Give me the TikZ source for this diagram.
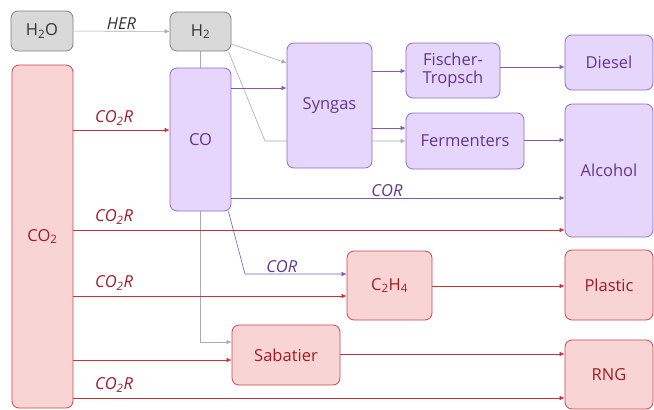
\documentclass[tikz,border=0pt]{standalone}
\usepackage{fontspec}
\setmainfont{Open Sans}
\usepackage{tikz}
\usetikzlibrary{arrows.meta}
\usetikzlibrary{backgrounds}
\usetikzlibrary{calc}

\definecolor{grayfill}{HTML}{D9D9D9}
\definecolor{grayline}{HTML}{7F7F7F}
\definecolor{graytext}{HTML}{333333}
\definecolor{grayflow}{HTML}{ABABAB}
\definecolor{purplefill}{HTML}{E6D6FB}
\definecolor{purpleline}{HTML}{8F6CC4}
\definecolor{purpletext}{HTML}{603592}
\definecolor{purpleflow}{HTML}{7E5AB8}
\definecolor{redfill}{HTML}{F9D4D4}
\definecolor{redline}{HTML}{C9484B}
\definecolor{redtext}{HTML}{A01A27}
\definecolor{redflow}{HTML}{C8313A}

\newcommand{\outx}{609}
\newcommand{\outw}{88}

\tikzstyle{unit}=[
  draw,
  rounded corners=7pt,
  line width=0.8pt,
  inner sep=0pt,
  align=center,
  font=\fontsize{16.5}{18}\selectfont
]
\tikzstyle{water}=[unit, fill=grayfill, draw=grayline, text=graytext]
\tikzstyle{carbon}=[unit, fill=purplefill, draw=purpleline, text=purpletext]
\tikzstyle{product}=[unit, fill=redfill, draw=redline, text=redtext]
\tikzstyle{flow}=[
  -{Latex[length=5pt,width=4.5pt]},
  line width=0.6pt
]
\tikzstyle{rxn}=[font=\itshape\fontsize{16.5}{18}\selectfont, inner sep=1pt]

\begin{document}
\begin{tikzpicture}[x=1pt, y=-1pt]
  \useasboundingbox (0,0) rectangle (654,410);

  % feeds
  \node[water,   minimum width=62, minimum height=40 ] (water)  at (42,    31)  {H\textsubscript{2}O};
  \node[water,   minimum width=61, minimum height=39 ] (htwo)   at (200.5, 31.5){H\textsubscript{2}};
  \node[product, minimum width=61, minimum height=343] (cotwo)  at (42.5,  236.5){CO\textsubscript{2}};

  % intermediates
  \node[carbon,  minimum width=61, minimum height=143] (co)     at (200.5, 139.5){CO};
  \node[carbon,  minimum width=85, minimum height=125] (syngas) at (329.5, 105.5){Syngas};
  \node[carbon,  minimum width=94, minimum height=55 ] (ft)     at (453,   70.5) {Fischer-\\Tropsch};
  \node[carbon,  minimum width=118,minimum height=56 ] (ferm)   at (465,   141)  {Fermenters};
  \node[product, minimum width=85, minimum height=69 ] (ethyl)  at (389.5, 285.5){C\textsubscript{2}H\textsubscript{4}};
  \node[product, minimum width=108,minimum height=60 ] (sabat)  at (286,   355)  {Sabatier};

  % products
  \node[carbon,  minimum width=\outw, minimum height=55 ] (diesel)  at (\outx, 62.5) {Diesel};
  \node[carbon,  minimum width=\outw, minimum height=133] (alcohol) at (\outx, 170.5){Alcohol};
  \node[product, minimum width=\outw, minimum height=70 ] (plastic) at (\outx, 285)  {Plastic};
  \node[product, minimum width=\outw, minimum height=69 ] (rng)     at (\outx, 374.5){RNG};

  % hydrogen routes, behind the boxes
  \coordinate (fermbend) at (265,141);
  \begin{scope}[on background layer]
    \draw[flow, grayflow] ($(htwo.south east)+(-3,0)$) -- (fermbend) -- (ferm.west |- fermbend);
    \draw[flow, grayflow] (htwo.south) |- (sabat.west |- 0,342);
    \draw[flow, purpleflow] ($(co.south east)+(-3,0)$) -- (245,274) -- (ethyl.west |- 0,274)
      node[midway, above, rxn, text=purpletext, xshift=-14pt] {COR};
  \end{scope}

  \draw[flow, grayflow] (water) -- (htwo) node[midway, above, rxn, text=graytext] {HER};
  \draw[flow, grayflow] (htwo.east |- 0,44) -- (syngas.west |- 0,63);

  % carbon monoxide routes
  \draw[flow, purpleflow] (co.east |- 0,88)      -- (syngas.west |- 0,88);
  \draw[flow, purpleflow] (syngas.east |- 0,71)  -- (ft.west |- 0,71);
  \draw[flow, purpleflow] (syngas.east |- 0,128) -- (ferm.west |- 0,128);
  \draw[flow, purpleflow] (ft.east |- 0,67)      -- (diesel.west |- 0,67);
  \draw[flow, purpleflow] (ferm.east |- 0,140)   -- (alcohol.west |- 0,140);
  \draw[flow, purpleflow] (co.east |- 0,198)     -- (alcohol.west |- 0,198)
    node[midway, above, rxn, text=purpletext, xshift=-11pt] {COR};

  % carbon dioxide routes
  \draw[flow, redflow] (cotwo.east |- 0,130) -- (co.west |- 0,130);
  \draw[flow, redflow] (cotwo.east |- 0,230) -- (alcohol.west |- 0,230);
  \draw[flow, redflow] (cotwo.east |- 0,296) -- (ethyl.west |- 0,296);
  \draw[flow, redflow] (cotwo.east |- 0,360) -- (sabat.west |- 0,360);
  \draw[flow, redflow] (cotwo.east |- 0,398) -- (rng.west |- 0,398);
  \draw[flow, redflow] (ethyl.east |- 0,286) -- (plastic.west |- 0,286);
  \draw[flow, redflow] (sabat.east |- 0,354) -- (rng.west |- 0,354);

  \node[rxn, text=redtext] (rco)      at (114,118) {CO\textsubscript{2}R};
  \node[rxn, text=redtext] (ralcohol) at (114,217) {CO\textsubscript{2}R};
  \node[rxn, text=redtext] (rethyl)   at (114,283) {CO\textsubscript{2}R};
  \node[rxn, text=redtext] (rrng)     at (114,385) {CO\textsubscript{2}R};
\end{tikzpicture}
\end{document}
